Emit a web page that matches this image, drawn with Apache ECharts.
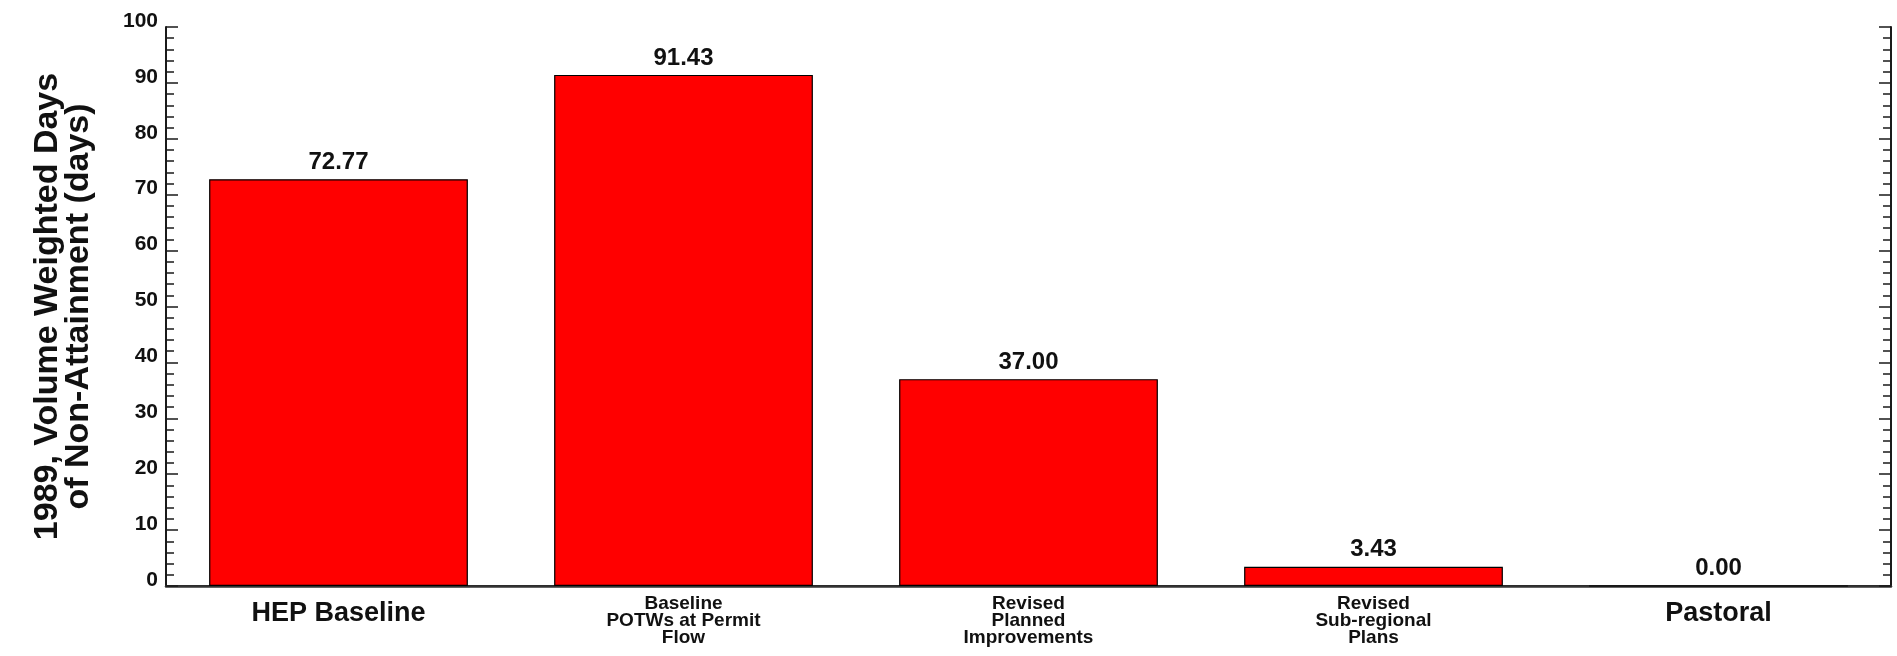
<!DOCTYPE html>
<html>
<head>
<meta charset="utf-8">
<script src="https://cdn.jsdelivr.net/npm/echarts@6/dist/echarts.min.js"></script>
<style>
html,body{margin:0;padding:0;background:#fff;}
#chart{width:1897px;height:656px;}
</style>
</head>
<body>
<div id="chart"></div>
<script>
var categories = ['HEP Baseline', 'Baseline\nPOTWs at Permit\nFlow', 'Revised\nPlanned\nImprovements', 'Revised\nSub-regional\nPlans', 'Pastoral'];
var values = [72.77, 91.43, 37.00, 3.43, 0.00];
var yTicks = { min: 0, max: 100, interval: 10 };
var yTitle = '1989, Volume Weighted Days\nof Non-Attainment (days)';

var FONT = '"Liberation Sans", Arial, sans-serif';
var chart = echarts.init(document.getElementById('chart'));

function catLabel(v) {
  if (v.indexOf('\n') >= 0) {
    return v.split('\n').map(function (s) { return '{s|' + s + '}'; }).join('\n');
  }
  return '{b|' + v + '}';
}

var axisLineStyle = { color: '#1a1a1a', width: 2 };

chart.setOption({
  animation: false,
  backgroundColor: '#ffffff',
  textStyle: { fontFamily: FONT },
  grid: { left: 166, right: 6, top: 27, bottom: 70, containLabel: false },
  xAxis: [
    {
      type: 'category',
      data: categories,
      position: 'bottom',
      boundaryGap: true,
      axisLine: { lineStyle: axisLineStyle },
      axisTick: { inside: true, length: 10, lineStyle: { color: '#1a1a1a', width: 1.5 } },
      axisLabel: {
        interval: 0,
        margin: 9,
        color: '#111',
        formatter: catLabel,
        rich: {
          b: { fontFamily: FONT, fontWeight: 'bold', fontSize: 27, lineHeight: 30, padding: [7, 0, 0, 0], color: '#111' },
          s: { fontFamily: FONT, fontWeight: 'bold', fontSize: 19, lineHeight: 17, color: '#111' }
        }
      }
    },
    {
      type: 'category',
      data: categories,
      position: 'top',
      boundaryGap: true,
      axisLine: { lineStyle: { color: '#333', width: 2.5 } },
      axisTick: { inside: true, length: 10, lineStyle: { color: '#1a1a1a', width: 1.5 } },
      axisLabel: { show: false }
    }
  ],
  yAxis: [
    {
      type: 'value',
      position: 'left',
      min: yTicks.min, max: yTicks.max, interval: yTicks.interval,
      name: yTitle,
      nameLocation: 'middle',
      nameRotate: 90,
      nameGap: 72,
      nameTextStyle: { fontFamily: FONT, fontWeight: 'bold', fontSize: 34, lineHeight: 31, color: '#111' },
      splitLine: { show: false },
      axisLine: { show: true, lineStyle: axisLineStyle },
      axisTick: { show: true, inside: true, length: 12, lineStyle: { color: '#1a1a1a', width: 1.5 } },
      minorTick: { show: true, splitNumber: 5, length: 8, lineStyle: { color: '#1a1a1a', width: 1.5 } },
      axisLabel: { margin: 8, fontFamily: FONT, fontWeight: 'bold', fontSize: 21, color: '#111', verticalAlign: 'bottom', lineHeight: 12 }
    },
    {
      type: 'value',
      position: 'right',
      min: yTicks.min, max: yTicks.max, interval: yTicks.interval,
      splitLine: { show: false },
      axisLine: { show: true, lineStyle: axisLineStyle },
      axisTick: { show: true, inside: true, length: 12, lineStyle: { color: '#1a1a1a', width: 1.5 } },
      minorTick: { show: true, splitNumber: 5, length: 8, lineStyle: { color: '#1a1a1a', width: 1.5 } },
      axisLabel: { show: false }
    }
  ],
  series: [
    {
      type: 'bar',
      xAxisIndex: 0,
      yAxisIndex: 0,
      data: values,
      barCategoryGap: '25%',
      itemStyle: { color: '#ff0000', borderColor: '#000', borderWidth: 1.2 },
      label: {
        show: true,
        position: 'top',
        distance: 5,
        fontFamily: FONT,
        fontWeight: 'bold',
        fontSize: 24,
        color: '#111',
        formatter: function (p) { return p.value.toFixed(2); }
      }
    }
  ]
});
</script>
</body>
</html>
